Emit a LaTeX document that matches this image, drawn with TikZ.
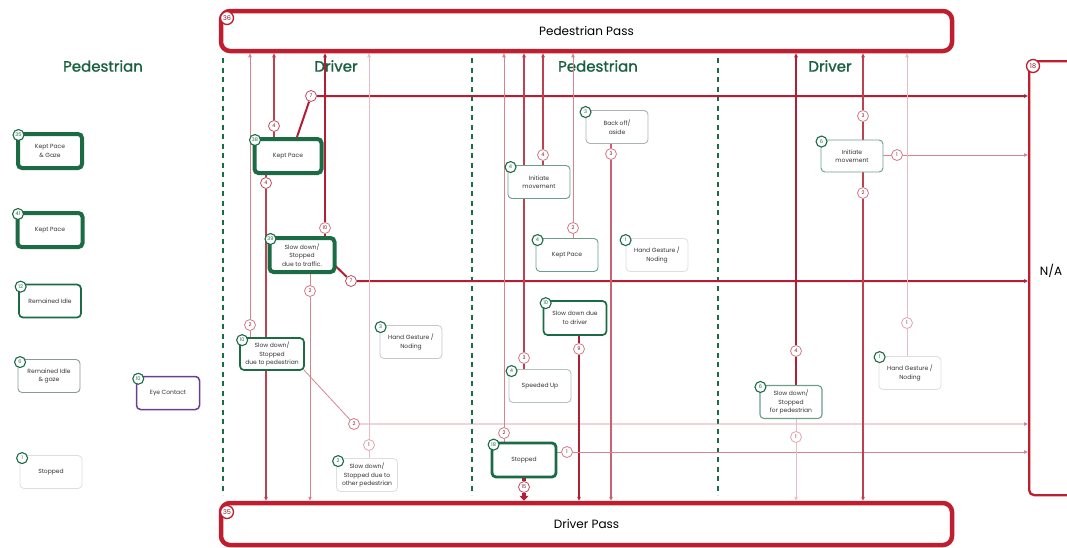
\documentclass[tikz,border=0pt]{standalone}
\usepackage{fontspec}
\setmainfont{Poppins}
\newfontfamily\hdrfont{Poppins}[FakeBold=1.2]
\usetikzlibrary{arrows.meta,backgrounds,calc}
\definecolor{pg}{HTML}{1B6B45}
\definecolor{pr}{HTML}{BE1E2D}
\definecolor{lr}{HTML}{B21F34}
\definecolor{pu}{HTML}{6A3D8E}
\begin{document}
\begin{tikzpicture}[x=1pt,y=-1pt,
  >={Triangle[length=4pt,width=3.4pt]},
  bx/.style={rectangle,rounded corners=4pt,fill=white,align=center,inner sep=1pt,
    minimum width=62pt,minimum height=33pt,font=\fontsize{6}{8.5}\selectfont,text=black!80},
  bthick/.style={bx,draw=pg,line width=4pt},
  bmed/.style={bx,draw=pg,line width=1.7pt},
  bthin/.style={bx,draw=pg!65,line width=0.9pt},
  blight/.style={bx,draw=black!13,line width=0.8pt},
  bpurple/.style={bx,draw=pu,line width=1.5pt},
  bpurlight/.style={bx,draw=pu!35!black!25,line width=0.8pt},
  gb/.style={circle,draw=pg,line width=1.1pt,fill=white,inner sep=0pt,minimum size=11pt,
    font=\fontsize{5}{5}\selectfont,text=pg},
  rb/.style={circle,draw=#1,line width=0.8pt,fill=white,inner sep=0pt,minimum size=11pt,
    font=\fontsize{5}{5}\selectfont,text=lr!70!black},
  rb/.default=lr!60,
  pb/.style={circle,draw=pr,line width=1.3pt,fill=white,inner sep=0pt,minimum size=13pt,
    font=\fontsize{6.5}{6.5}\selectfont,text=pr!70!black},
  pass/.style={rectangle,rounded corners=9pt,draw=pr,line width=4.5pt,fill=white,
    minimum width=731pt,font=\fontsize{12}{13}\selectfont},
  hdr/.style={font=\hdrfont\fontsize{15}{16}\selectfont,text=pg!90!black},
  lane/.style={draw=pg,line width=1.8pt,dash pattern=on 5pt off 4.5pt},
  la/.style={draw=lr!30,line width=0.6pt},
  lb/.style={draw=lr!55,line width=0.8pt},
  lc/.style={draw=lr!85,line width=1.3pt},
  ld/.style={draw=lr,line width=2pt},
  le/.style={draw=lr,line width=2.8pt},
  lf/.style={draw=lr,line width=4pt}
]
\useasboundingbox (0,0) rectangle (1067,547);

% pass boxes
\node[pass,minimum height=40pt] (PP) at (586.5,31) {Pedestrian Pass};
\node[pass,minimum height=42pt] (DP) at (586.5,524) {Driver Pass};
\node[pb] (b36) at (227,18) {36};
\node[pb] (b35) at (227,512) {35};
\node[rectangle,rounded corners=5pt,draw=pr,line width=2.3pt,fill=white,minimum width=100pt,
  minimum height=434pt,anchor=north west] (NA) at (1028,60) {};
\node[font=\fontsize{12}{13}\selectfont] (natext) at (1051,271) {N/A};
\node[pb] (b18) at (1033,66) {18};

% legend
\node[bthick,minimum width=64pt,minimum height=34pt] (L1) at (50,151) {Kept Pace\\\& Gaze};
\node[bthick,minimum width=65pt,minimum height=34pt] (L2) at (50,230) {Kept Pace};
\node[bmed] (L3) at (50,301) {Remained Idle};
\node[bthin,draw=pg!55!black!50] (L4) at (49,376) {Remained Idle\\\& gaze};
\node[blight] (L5) at (51,472) {Stopped};
\node[bpurple,minimum width=63pt] (EC) at (168,393) {Eye Contact};
\node[gb] at ([shift={(2.5,3)}]L1.north west) {35};
\node[gb] at ([shift={(2.5,3)}]L2.north west) {41};
\node[gb] at ([shift={(2.5,3)}]L3.north west) {12};
\node[gb] at ([shift={(2.5,3)}]L4.north west) {6};
\node[gb] at ([shift={(2.5,3)}]L5.north west) {1};
\node[gb] at ([shift={(2.5,3)}]EC.north west) {10};

% driver lane 1
\node[bthick,minimum width=67pt,minimum height=34pt] (D1a) at (288,156) {Kept Pace};
\node[bthick,minimum width=65pt,minimum height=34pt] (D1b) at (302,255) {Slow down/\\Stopped\\due to traffic.};
\node[bmed,minimum width=64pt,minimum height=32pt] (D1c) at (272,354) {Slow down/\\Stopped\\due to pedestrian};
\node[bpurlight] (D1d) at (411,342) {Hand Gesture /\\Noding};
\node[blight,minimum width=61pt] (D1e) at (367,475) {Slow down/\\Stopped due to\\other pedestrian};
\node[gb] at ([shift={(2.5,3)}]D1a.north west) {38};
\node[gb] at ([shift={(3,3)}]D1b.north west) {39};
\node[gb] at ([shift={(3,3)}]D1c.north west) {10};
\node[gb] at ([shift={(1,2)}]D1d.north west) {3};
\node[gb] at ([shift={(2,3)}]D1e.north west) {2};

% pedestrian lane 2
\node[bthin] (P2a) at (539,182) {Initiate\\movement};
\node[bthin,draw=pg!40!black!35] (P2b) at (617,127) {Back off/\\aside};
\node[bthin] (P2c) at (567,255) {Kept Pace};
\node[blight] (P2d) at (657,255) {Hand Gesture /\\Noding};
\node[bmed,minimum width=63pt,minimum height=34pt] (P2e) at (575,318) {Slow down due\\to driver};
\node[bthin,draw=pg!45!black!30] (P2f) at (540,386) {Speeded Up};
\node[bthick,line width=2.8pt,minimum width=64pt,minimum height=34pt] (P2g) at (524,460) {Stopped};
\node[gb] at ([shift={(3,2)}]P2a.north west) {4};
\node[gb] at ([shift={(0,2)}]P2b.north west) {3};
\node[gb] at ([shift={(2,2)}]P2c.north west) {4};
\node[gb] at ([shift={(0,2)}]P2d.north west) {1};
\node[gb] at ([shift={(3,3)}]P2e.north west) {10};
\node[gb] at ([shift={(3,2)}]P2f.north west) {4};
\node[gb] at ([shift={(3,3)}]P2g.north west) {18};

% driver lane 2
\node[bthin,minimum height=32pt] (D2a) at (852,156) {Initiate\\movement};
\node[bthin,line width=1.1pt] (D2b) at (791,402) {Slow down/\\Stopped\\for pedestrian};
\node[blight] (D2c) at (910,373) {Hand Gesture /\\Noding};
\node[gb] at ([shift={(1,2)}]D2a.north west) {6};
\node[gb] at ([shift={(1,2)}]D2b.north west) {6};
\node[gb] at ([shift={(1,1)}]D2c.north west) {1};

% line badges
\node[rb] (c1) at (250,325) {2};
\node[rb=lr!80] (c2) at (274,126) {4};
\node[rb=lr!80] (c3) at (266,183) {4};
\node[rb] (c4) at (325,228) {10};
\node[rb=lr!80] (c5) at (311,96) {7};
\node[rb=lr!80] (c6) at (351,281) {7};
\node[rb] (c7) at (310,291) {2};
\node[rb] (c8) at (354,424) {2};
\node[rb=lr!40] (c9) at (369,445) {1};
\node[rb] (c10) at (504,433) {2};
\node[rb] (c11) at (524,358) {3};
\node[rb] (c12) at (543,155) {4};
\node[rb] (c13) at (573,228) {2};
\node[rb] (c14) at (611,154) {3};
\node[rb] (c15) at (579,349) {9};
\node[rb=lr!80] (c16) at (524,487) {15};
\node[rb] (c17) at (567,452) {1};
\node[rb] (c18) at (796,351) {4};
\node[rb=lr!40] (c19) at (796,437) {1};
\node[rb] (c20) at (863,116) {3};
\node[rb] (c21) at (863,193) {2};
\node[rb] (c22) at (897,155) {1};
\node[rb=lr!40] (c23) at (907,323) {1};

\begin{pgfonlayer}{background}
  \node[hdr] (h1) at (103,66) {Pedestrian};
  \node[hdr] (h2) at (336,66) {Driver};
  \node[hdr] (h3) at (598,66) {Pedestrian};
  \node[hdr] (h4) at (830,66) {Driver};
  \draw[lane] (223,58) -- (223,495);
  \draw[lane] (472,58) -- (472,495);
  \draw[lane] (718,58) -- (718,495);

  % driver lane 1
  \draw[lb,->] (D1c.north -| c1) -- (c1) -- (PP.south -| c1);
  \draw[lc,->] (D1a.north -| c2) -- (c2) -- (PP.south -| c2);
  \draw[lc,->] (D1a.south -| c3) -- (c3) -- (DP.north -| c3);
  \draw[le,->] (D1b.north -| c4) -- (c4) -- (PP.south -| c4);
  \draw[ld,->] ([xshift=9pt]D1a.north) -- (c5) -- (NA.west |- c5);
  \draw[ld,->] ([shift={(-1,-8)}]D1b.south east) -- (c6) -- (NA.west |- c6);
  \draw[lb,->] (D1b.south -| c7) -- (c7) -- (DP.north -| c7);
  \draw[lb,->] ([shift={(-1,-1)}]D1c.south east) -- (c8) -- (NA.west |- c8);
  \draw[la,->] (D1e.north -| c9) -- (c9) -- (PP.south -| c9);

  % pedestrian lane 2
  \draw[lb,->] (P2g.north -| c10) -- (c10) -- (PP.south -| c10);
  \draw[lc,->] (P2f.north -| c11) -- (c11) -- (PP.south -| c11);
  \draw[lc,->] (P2a.north -| c12) -- (c12) -- (PP.south -| c12);
  \draw[lb,->] (P2c.north -| c13) -- (c13) -- (PP.south -| c13);
  \draw[lc,draw=lr!70,->] (P2b.south -| c14) -- (c14) -- (DP.north -| c14);
  \draw[le,->] (P2e.south -| c15) -- (c15) -- (DP.north -| c15);
  \draw[lf,-{Triangle[length=5pt,width=9pt]}] (P2g.south -| c16) -- (c16) -- (DP.north -| c16);
  \draw[lb,->] (P2g.east |- c17) -- (c17) -- (NA.west |- c17);

  % driver lane 2
  \draw[ld,line width=1.7pt,->] (D2b.north -| c18) -- (c18) -- (PP.south -| c18);
  \draw[la,->] (D2b.south -| c19) -- (c19) -- (DP.north -| c19);
  \draw[lc,->] (D2a.north -| c20) -- (c20) -- (PP.south -| c20);
  \draw[lc,->] (D2a.south -| c21) -- (c21) -- (DP.north -| c21);
  \draw[lb,->] (D2a.east |- c22) -- (c22) -- (NA.west |- c22);
  \draw[la,->] (D2c.north -| c23) -- (c23) -- (PP.south -| c23);
\end{pgfonlayer}
\end{tikzpicture}
\end{document}
